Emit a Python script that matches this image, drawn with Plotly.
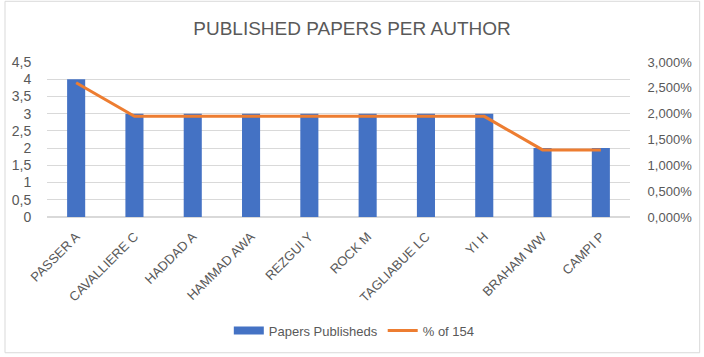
import plotly.graph_objects as go

authors = ["PASSER A", "CAVALLIERE C", "HADDAD A", "HAMMAD AWA", "REZGUI Y",
           "ROCK M", "TAGLIABUE LC", "YI H", "BRAHAM WW", "CAMPI P"]
papers = [4, 3, 3, 3, 3, 3, 3, 3, 2, 2]
total = 154
pct = [p / total for p in papers]

TXT = "#595959"
GRID = "#d9d9d9"
BLUE = "#4472c4"
ORANGE = "#ed7d31"
FONT = "Liberation Sans"

fig = go.Figure()
fig.add_trace(go.Bar(x=authors, y=papers, name="Papers Publisheds", showlegend=False,
                     marker=dict(color=BLUE, line=dict(width=0)), yaxis="y"))
# legend entry with a wide rectangular swatch, like the original
fig.add_trace(go.Scatter(x=[None], y=[None], name="Papers Publisheds", mode="lines",
                         line=dict(color=BLUE, width=8), yaxis="y"))
fig.add_trace(go.Scatter(x=authors, y=pct, name="% of 154", mode="lines",
                         line=dict(color=ORANGE, width=3), yaxis="y2"))

L, R, T, B = 43, 71, 62, 138
W, H = 704, 357
pw, ph = W - L - R, H - T - B

fig.update_layout(
    width=W, height=H,
    margin=dict(l=L, r=R, t=T, b=B),
    paper_bgcolor="white", plot_bgcolor="white",
    separators=",.",
    font=dict(family=FONT, color=TXT, size=13),
    title=dict(text="PUBLISHED PAPERS PER AUTHOR", x=0.5, xanchor="center",
               y=1 - 28 / H, yanchor="middle",
               font=dict(size=19, color=TXT, family=FONT)),
    bargap=0.69,
    showlegend=True,
    legend=dict(orientation="h", x=(354 - L) / pw, xanchor="center",
                y=(T + ph - 334) / ph, yanchor="middle",
                font=dict(size=13, color=TXT, family=FONT), itemwidth=30,
                tracegroupgap=0),
    xaxis=dict(tickangle=-45, showgrid=False, showline=False,
               ticks="outside", ticklen=6, tickcolor="rgba(0,0,0,0)",
               tickfont=dict(size=13, color=TXT)),
    yaxis=dict(range=[0, 4.5], dtick=0.5, tickformat=".1~f", showgrid=True, gridcolor=GRID,
               zeroline=True, zerolinecolor=GRID, showline=False,
               ticks="outside", ticklen=12, tickcolor="rgba(0,0,0,0)",
               tickfont=dict(size=14, color=TXT)),
    yaxis2=dict(range=[0, 0.03], dtick=0.005, tickformat=".3%", overlaying="y", side="right",
                showgrid=False, zeroline=False, showline=False,
                ticks="outside", ticklen=14, tickcolor="rgba(0,0,0,0)",
                tickfont=dict(size=13, color=TXT)),
    shapes=[dict(type="rect", xref="paper", yref="paper",
                 x0=(0.5 - L) / pw, x1=(W - 0.5 - L) / pw,
                 y0=(T + ph - (H - 0.5)) / ph, y1=(T + ph - 0.5) / ph,
                 line=dict(color=GRID, width=1), layer="below")],
)

fig.write_html("out.html")
